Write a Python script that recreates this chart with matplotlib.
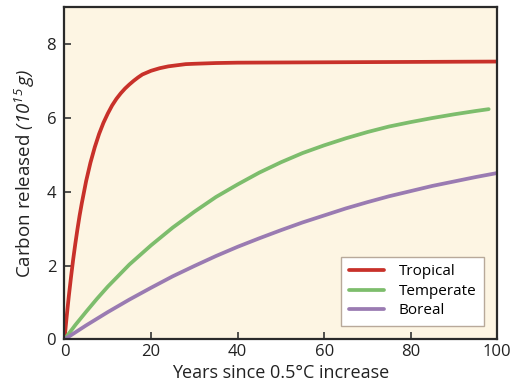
import matplotlib
matplotlib.use("Agg")
import matplotlib.pyplot as plt

plt.rcParams['font.family'] = ['Open Sans', 'DejaVu Sans']
plt.rcParams['mathtext.fontset'] = 'custom'
plt.rcParams['mathtext.rm'] = 'Open Sans:italic'
plt.rcParams['mathtext.it'] = 'Open Sans:italic'

# Data
trop_t = [0, 0.5, 1, 1.5, 2, 2.5, 3, 3.5, 4, 5, 6, 7, 8, 9, 10, 11, 12, 13, 14, 15, 16, 17, 18,
          20, 22, 24, 26, 28, 30, 35, 40, 50, 60, 80, 100]
trop_y = [0, 0.61, 1.17, 1.68, 2.16, 2.59, 2.99, 3.36, 3.69, 4.29, 4.79, 5.21, 5.57, 5.87, 6.12,
          6.34, 6.52, 6.67, 6.80, 6.91, 7.01, 7.10, 7.18, 7.28, 7.35, 7.40, 7.43, 7.46, 7.47,
          7.49, 7.50, 7.505, 7.51, 7.52, 7.53]

temp_t = [0, 2.5, 5, 7.5, 10, 15, 20, 25, 30, 35, 40, 45, 50, 55, 60, 65, 70, 75, 80, 85, 90, 95, 98]
temp_y = [0, 0.39, 0.75, 1.10, 1.43, 2.03, 2.55, 3.03, 3.46, 3.86, 4.20, 4.52, 4.80, 5.05, 5.26,
          5.45, 5.62, 5.77, 5.89, 6.00, 6.10, 6.19, 6.24]

bor_t = [0, 5, 10, 15, 20, 25, 30, 35, 40, 45, 50, 55, 60, 65, 70, 75, 80, 85, 90, 95, 100]
bor_y = [0, 0.38, 0.74, 1.08, 1.40, 1.71, 1.99, 2.26, 2.51, 2.74, 2.96, 3.17, 3.36, 3.55, 3.72,
         3.88, 4.02, 4.16, 4.28, 4.40, 4.51]

labels = ['Tropical', 'Temperate', 'Boreal']
colors = ['#c8312a', '#7dbd6c', '#9a7bb2']

fig = plt.figure(figsize=(5.15, 3.85), dpi=100)
ax = fig.add_axes([0.1252, 0.1184, 0.8405, 0.8626])
ax.set_facecolor('#fdf5e3')

for (t, y), lab, c in zip([(trop_t, trop_y), (temp_t, temp_y), (bor_t, bor_y)], labels, colors):
    ax.plot(t, y, color=c, lw=2.7, label=lab, solid_capstyle='round', solid_joinstyle='round')

ax.set_xlim(0, 100)
ax.set_ylim(0, 9)
ax.set_xticks([0, 20, 40, 60, 80, 100])
ax.set_yticks([0, 2, 4, 6, 8])
ax.tick_params(direction='in', length=5, width=1.2, color='#333333', labelsize=12,
               labelcolor='#222222')
ax.tick_params(axis='y', pad=6)
ax.tick_params(axis='x', pad=3)
for s in ax.spines.values():
    s.set_color('#2a2a2a')
    s.set_linewidth(1.6)

ax.set_xlabel('Years since 0.5°C increase', fontsize=13, color='#222222', labelpad=3)
ax.set_ylabel('Carbon released $\\mathrm{(10^{15}\\,g)}$', fontsize=13.5, color='#222222',
              labelpad=7)

leg = ax.legend(loc='lower right', bbox_to_anchor=(0.97, 0.04), fontsize=11, frameon=True,
                fancybox=False, handlelength=2.3, handletextpad=1.0, borderpad=0.5,
                labelspacing=0.3, borderaxespad=0)
leg.get_frame().set_edgecolor('#b8a99a')
leg.get_frame().set_linewidth(1.0)
leg.get_frame().set_facecolor('white')
leg.get_frame().set_alpha(1)

fig.savefig('out.png', dpi=100)
